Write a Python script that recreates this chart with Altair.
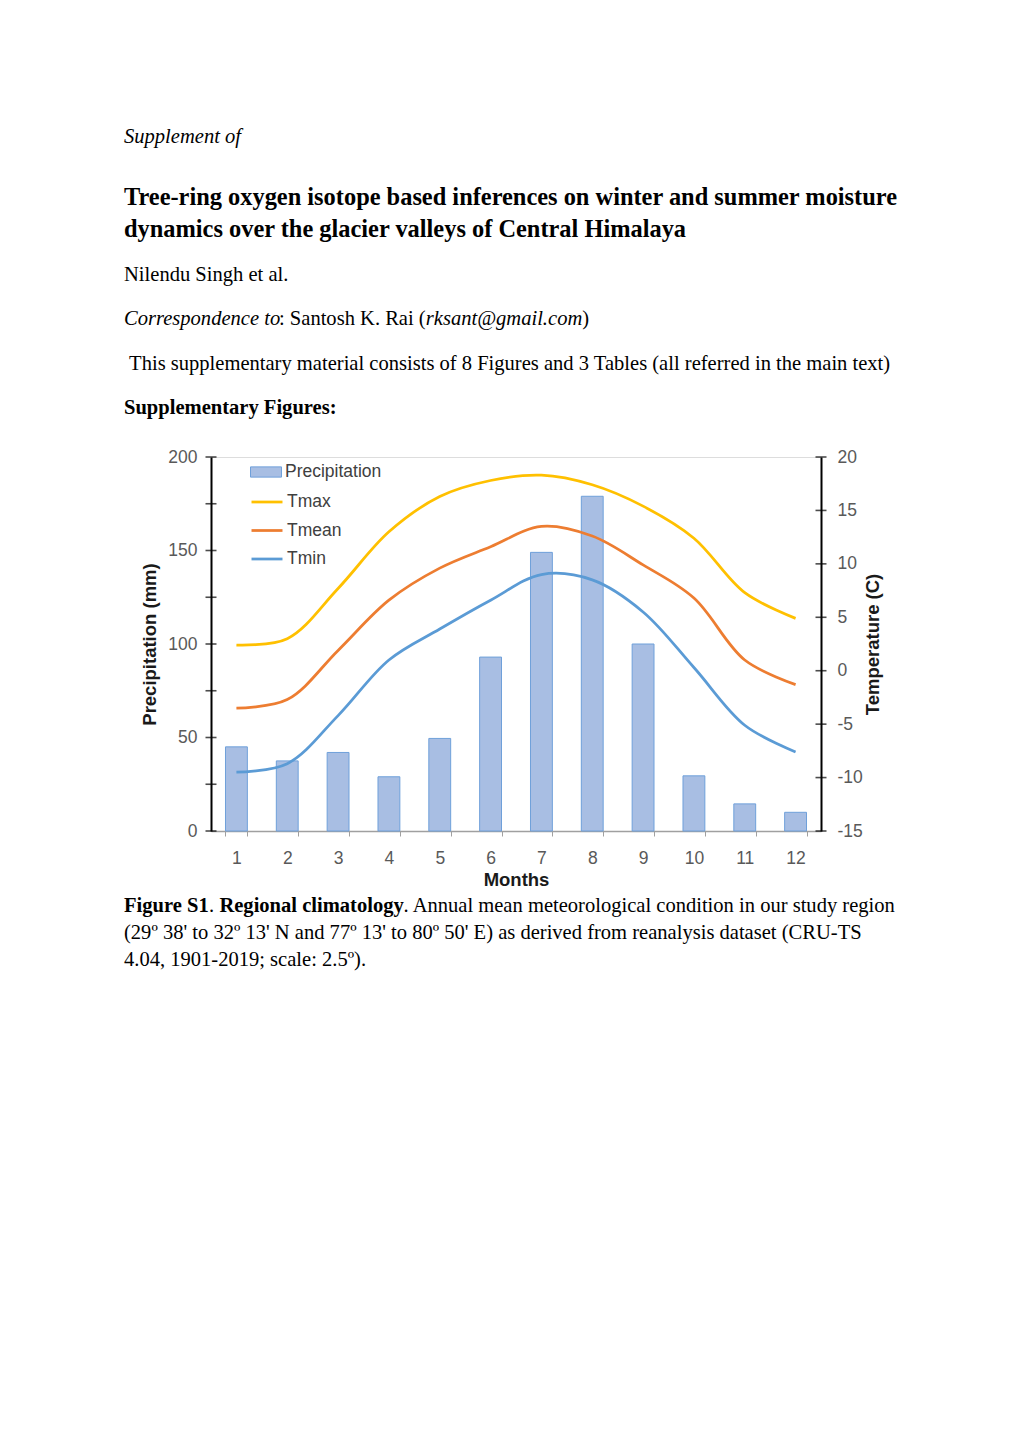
import altair as alt
import pandas as pd

# ---------------- data ----------------
months = list(range(1, 13))
precip = [45, 37.5, 42, 29, 49.5, 93, 149, 179, 100, 29.5, 14.5, 10]
tmax = [2.4, 3.0, 7.7, 13.0, 16.3, 17.8, 18.3, 17.4, 15.4, 12.4, 7.3, 4.9]
tmean = [-3.5, -2.7, 1.9, 6.6, 9.6, 11.6, 13.5, 12.6, 9.9, 6.8, 1.0, -1.3]
tmin = [-9.5, -8.7, -4.2, 1.0, 3.9, 6.6, 9.0, 8.5, 5.5, 0.3, -5.1, -7.6]
series_names = ["Tmax", "Tmean", "Tmin"]
series_colors = ["#FFC000", "#ED7D31", "#5B9BD5"]
precip_ticks = [0, 25, 50, 75, 100, 125, 150, 175, 200]
precip_labels = [0, 50, 100, 150, 200]
temp_ticks = [-15, -10, -5, 0, 5, 10, 15, 20]

# ---------------- layout ----------------
PX0, PY0 = 211, 457        # plot origin on the page
W, H = 610, 374            # plot area
SANS = "Liberation Sans"
SERIF = "Liberation Serif"
BODY = 20.56

bars_df = pd.DataFrame({"month": months, "precip": precip, "name": ["Precipitation"] * 12})
temp_df = pd.DataFrame({
    "month": months * 3,
    "temp": tmax + tmean + tmin,
    "series": ["Tmax"] * 12 + ["Tmean"] * 12 + ["Tmin"] * 12,
})

xscale = alt.Scale(paddingInner=0.57, paddingOuter=0.285)
xaxis = alt.Axis(
    title="Months", labelAngle=0, labelFont=SANS, labelFontSize=17.5, labelColor="#595959",
    labelPadding=13, domainColor="#A0A0A0", domainWidth=1.5, tickColor="#A0A0A0",
    tickSize=5, tickBand="extent", titleFont=SANS, titleFontSize=18.5,
    titleFontWeight="bold", titleColor="#1a1a1a", titlePadding=4,
)
pscale = alt.Scale(domain=[0, 200], nice=False, zero=False)
tscale = alt.Scale(domain=[-15, 20], nice=False, zero=False)

bars = alt.Chart(bars_df).mark_bar(stroke="#6FA0DA", strokeWidth=1).encode(
    x=alt.X("month:O", scale=xscale, axis=xaxis),
    y=alt.Y("precip:Q", scale=pscale, axis=alt.Axis(
        title="Precipitation (mm)", values=precip_labels, ticks=False, grid=False,
        domainColor="black", domainWidth=2, labelFont=SANS, labelFontSize=17.5,
        labelColor="#595959", labelPadding=14, titleFont=SANS, titleFontSize=18.5,
        titleFontWeight="bold", titleColor="#1a1a1a", titlePadding=8, orient="left")),
    fill=alt.Fill("name:N", scale=alt.Scale(domain=["Precipitation"], range=["#A8BEE3"]),
                  legend=alt.Legend(title=None, orient="none", legendX=39, legendY=-1,
                                    symbolType="M-1,-0.33H1V0.33H-1Z", symbolSize=960,
                                    symbolStrokeColor="#6FA0DA", symbolStrokeWidth=1,
                                    labelFont=SANS, labelFontSize=17.5, labelColor="#404040",
                                    labelOffset=3, padding=0)),
)

left_ticks = alt.Chart(pd.DataFrame({"v": precip_ticks})).mark_tick(
    orient="horizontal", size=11, thickness=1.6, color="black").encode(
    x=alt.value(0), y=alt.Y("v:Q", scale=pscale, axis=None))

lines = alt.Chart(temp_df).mark_line(strokeWidth=2.75, interpolate="catmull-rom").encode(
    x=alt.X("month:O", scale=xscale, axis=xaxis),
    y=alt.Y("temp:Q", scale=tscale, axis=alt.Axis(
        title="Temperature (C)", values=temp_ticks, ticks=False, grid=False,
        labelExpr="datum.value < 0 ? '-' + abs(datum.value) : '' + datum.value",
        domainColor="black", domainWidth=2, labelFont=SANS, labelFontSize=17.5,
        labelColor="#595959", labelPadding=16, titleFont=SANS, titleFontSize=18.5,
        titleFontWeight="bold", titleColor="#1a1a1a", titlePadding=20, titleAngle=270,
        orient="right")),
    stroke=alt.Stroke("series:N", scale=alt.Scale(domain=series_names, range=series_colors),
                      legend=alt.Legend(title=None, orient="none", legendX=39, legendY=28,
                                        symbolType="stroke", symbolSize=960,
                                        symbolStrokeWidth=2.75, labelFont=SANS,
                                        labelFontSize=17.5, labelColor="#404040",
                                        labelOffset=3, padding=0, rowPadding=2.5)),
    detail="series:N",
)

right_ticks = alt.Chart(pd.DataFrame({"v": temp_ticks})).mark_tick(
    orient="horizontal", size=11, thickness=1.6, color="black").encode(
    x=alt.value(W), y=alt.Y("v:Q", scale=tscale, axis=None))


def txt(s, x, y, size=BODY, weight="normal", style="normal"):
    return alt.Chart(pd.DataFrame({"t": [s]})).mark_text(
        align="left", baseline="alphabetic", font=SERIF, fontSize=size,
        fontWeight=weight, fontStyle=style, color="black").encode(
        text="t:N", x=alt.value(x - PX0), y=alt.value(y - PY0))


texts = [
    txt("Supplement of", 124, 143, style="italic"),
    txt("Tree-ring oxygen isotope based inferences on winter and summer moisture", 124, 205, size=24.4, weight="bold"),
    txt("dynamics over the glacier valleys of Central Himalaya", 124, 237, size=24.4, weight="bold"),
    txt("Nilendu Singh et al.", 124, 281),
    txt("Correspondence to", 124, 325, style="italic"),
    txt(": Santosh K. Rai (", 279.0, 325),
    txt("rksant@gmail.com", 425.8, 325, style="italic"),
    txt(")", 582.3, 325),
    txt("This supplementary material consists of 8 Figures and 3 Tables (all referred in the main text)", 129.1, 370),
    txt("Supplementary Figures:", 124, 414, weight="bold"),
    txt("Figure S1", 124, 912, weight="bold"),
    txt(".", 209.1, 912),
    txt("Regional climatology", 219.4, 912, weight="bold"),
    txt(". Annual mean meteorological condition in our study region", 403.5, 912),
    txt("(29º 38' to 32º 13' N and 77º 13' to 80º 50' E) as derived from reanalysis dataset (CRU-TS", 124, 939),
    txt("4.04, 1901-2019; scale: 2.5º).", 124, 966),
]

chart = alt.layer(bars, left_ticks, lines, right_ticks, *texts).resolve_scale(
    y="independent", fill="independent", stroke="independent"
).properties(
    width=W, height=H,
    autosize=alt.AutoSizeParams(type="none"),
    padding={"left": PX0 - 8, "top": PY0 - 8, "right": 180, "bottom": 150},
).configure_view(stroke=None).configure(background="white")

chart.save("out.html", embed_options={"renderer": "svg", "actions": False})
